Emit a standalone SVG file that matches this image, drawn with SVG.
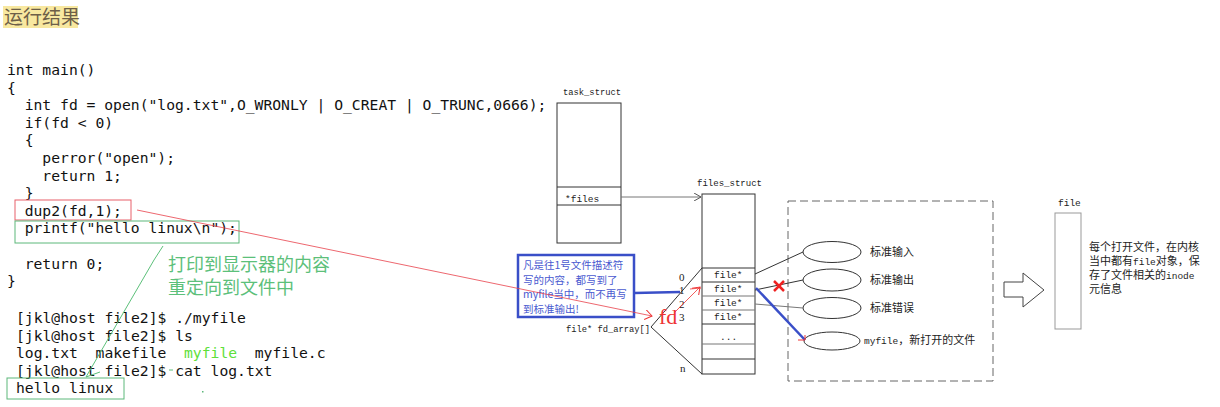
<svg xmlns="http://www.w3.org/2000/svg" width="1220" height="407" viewBox="0 0 1220 407">
<defs>
<style>
.code{font-family:"DejaVu Sans Mono",monospace;font-size:14.7px;fill:#111;white-space:pre}
.cjk{font-family:"Noto Sans CJK SC","Noto Sans",sans-serif}
.small{font-family:"Liberation Mono","Noto Sans CJK SC",monospace;font-size:9.5px;fill:#222}
.lbl{font-family:"Noto Sans CJK SC",sans-serif;font-size:11px;fill:#222}
.num{font-family:"Liberation Serif",serif;font-size:11px;fill:#222}
.thin{stroke:#333;stroke-width:1;fill:none}
.gray{stroke:#777;stroke-width:1;fill:none}
</style>
<marker id="open" markerWidth="8" markerHeight="8" refX="7" refY="4" orient="auto" markerUnits="userSpaceOnUse">
<path d="M0,0 L7,4 L0,8" fill="none" stroke="#555" stroke-width="1"/>
</marker>
<marker id="redopen" markerWidth="8" markerHeight="10" refX="7" refY="5" orient="auto" markerUnits="userSpaceOnUse">
<path d="M0,0 L7,5 L0,10" fill="none" stroke="#e33" stroke-width="1"/>
</marker>
</defs>
<rect width="1220" height="407" fill="#fff"/>

<g id="title">
<rect x="3" y="6" width="75" height="22" fill="#f8e8a0"/>
<text x="4" y="24" class="cjk" font-size="19" fill="#6e5f48">运行结果</text>
</g>

<g id="code">
<text class="code" x="7" y="75">int main()</text>
<text class="code" x="7" y="92.6">{</text>
<text class="code" x="7" y="110.2">  int fd = open("log.txt",O_WRONLY | O_CREAT | O_TRUNC,0666);</text>
<text class="code" x="7" y="127.8">  if(fd &lt; 0)</text>
<text class="code" x="7" y="145.4">  {</text>
<text class="code" x="7" y="163">    perror("open");</text>
<text class="code" x="7" y="180.6">    return 1;</text>
<text class="code" x="7" y="198.2">  }</text>
<text class="code" x="7" y="215.8">  dup2(fd,1);</text>
<text class="code" x="7" y="233.4">  printf("hello linux\n");</text>
<text class="code" x="7" y="268.6">  return 0;</text>
<text class="code" x="7" y="286.2">}</text>
<rect x="15" y="200" width="116" height="20" fill="none" stroke="#e8606a" stroke-width="1"/>
<rect x="15" y="221" width="224" height="22" fill="none" stroke="#5cb87a" stroke-width="1"/>
</g>

<g id="terminal">
<text class="code" x="16" y="323">[jkl@host file2]$ ./myfile</text>
<text class="code" x="16" y="340.5">[jkl@host file2]$ ls</text>
<text class="code" x="16" y="358">log.txt  makefile  <tspan fill="#5ee03a">myfile</tspan>  myfile.c</text>
<text class="code" x="16" y="375.6">[jkl@host file2]$ cat log.txt</text>
<text class="code" x="16" y="393.2">hello linux</text>
<rect x="7" y="378" width="117" height="21" fill="none" stroke="#5cb87a" stroke-width="1"/>
<rect x="202" y="391" width="1.5" height="1.5" fill="#5cb87a"/>
</g>

<g id="green-note">
<text x="168" y="271" class="cjk" font-size="18" fill="#5cc07a">打印到显示器的内容</text>
<text x="168" y="294" class="cjk" font-size="18" fill="#5cc07a">重定向到文件中</text>
</g>

<g id="task_struct">
<text x="563" y="95" class="small" textLength="58" lengthAdjust="spacingAndGlyphs">task_struct</text>
<rect x="557" y="103" width="64" height="140" class="thin"/>
<line x1="557" y1="187" x2="621" y2="187" class="thin"/>
<line x1="557" y1="205" x2="621" y2="205" class="thin"/>
<text x="565" y="202" class="small">*files</text>
</g>

<g id="files_struct">
<text x="697" y="186" class="small" textLength="65" lengthAdjust="spacingAndGlyphs">files_struct</text>
<rect x="702" y="194" width="53" height="180" class="thin"/>
<line x1="702" y1="268" x2="755" y2="268" class="thin"/>
<line x1="702" y1="282" x2="755" y2="282" class="thin"/>
<line x1="702" y1="296" x2="755" y2="296" class="gray"/>
<line x1="702" y1="310" x2="755" y2="310" class="gray"/>
<line x1="702" y1="324" x2="755" y2="324" class="thin"/>
<line x1="702" y1="344" x2="755" y2="344" class="gray"/>
<line x1="702" y1="359" x2="755" y2="359" class="thin"/>
<text x="714" y="278" class="small">file*</text>
<text x="714" y="292" class="small">file*</text>
<text x="714" y="306" class="small">file*</text>
<text x="714" y="320" class="small">file*</text>
<text x="720" y="340" class="small">...</text>
<text x="679" y="281" class="num">0</text>
<text x="679" y="294" class="num">1</text>
<text x="679" y="308" class="num">2</text>
<text x="679" y="321" class="num">3</text>
<text x="680" y="372" class="num">n</text>
<text x="566" y="332" class="small" textLength="84" lengthAdjust="spacingAndGlyphs">file* fd_array[]</text>
</g>

<g id="note-blue">
<rect x="518" y="255" width="116" height="62" fill="#fff" stroke="#3a4fc8" stroke-width="2.5"/>
<text x="523" y="269" class="cjk" font-size="10.5" fill="#4a5ad0">凡是往1号文件描述符</text>
<text x="523" y="283.5" class="cjk" font-size="10.5" fill="#4a5ad0">写的内容，都写到了</text>
<text x="523" y="298" class="cjk" font-size="10.5" fill="#4a5ad0">myfile当中，而不再写</text>
<text x="523" y="312.5" class="cjk" font-size="10.5" fill="#4a5ad0">到标准输出!</text>
</g>

<g id="kernel-files">
<rect x="788" y="201" width="205" height="180" fill="none" stroke="#666" stroke-width="1" stroke-dasharray="8,4"/>
<ellipse cx="832" cy="252" rx="29" ry="10.5" class="thin"/>
<ellipse cx="832" cy="280" rx="29" ry="11" class="thin"/>
<ellipse cx="832" cy="308" rx="29" ry="10.5" class="thin"/>
<ellipse cx="832" cy="341" rx="28" ry="9" class="thin"/>
<text x="870" y="256" class="lbl">标准输入</text>
<text x="870" y="284" class="lbl">标准输出</text>
<text x="870" y="312" class="lbl">标准错误</text>
<text x="864" y="344" class="lbl"><tspan class="small">myfile</tspan>，新打开的文件</text>
</g>

<g id="file">
<text x="1058" y="206" class="small">file</text>
<rect x="1055" y="213" width="26" height="116" fill="none" stroke="#999" stroke-width="1"/>
<text x="1089" y="251" class="lbl" font-size="10.5">每个打开文件，在内核</text>
<text x="1089" y="265" class="lbl" font-size="10.5">当中都有<tspan class="small">file</tspan>对象，保</text>
<text x="1089" y="279" class="lbl" font-size="10.5">存了文件相关的<tspan class="small">inode</tspan></text>
<text x="1089" y="293" class="lbl" font-size="10.5">元信息</text>
</g>

<g id="big-arrow">
<path d="M1004,282 L1023,282 L1023,273 L1044,290 L1023,307 L1023,297 L1004,297 Z" fill="#fff" stroke="#444" stroke-width="1"/>
</g>

<g id="connectors">
<line x1="621" y1="197" x2="701" y2="197" stroke="#777" stroke-width="1" marker-end="url(#open)"/>
<line x1="651" y1="327" x2="702" y2="268" class="thin"/>
<line x1="651" y1="327" x2="702" y2="374" class="thin"/>
<line x1="755" y1="274" x2="803" y2="252" class="thin"/>
<line x1="755" y1="290" x2="803" y2="280" class="thin"/>
<line x1="755" y1="304" x2="803" y2="308" class="gray"/>
<line x1="634" y1="293" x2="680" y2="292" stroke="#3a4fc8" stroke-width="2.5"/>
<line x1="756" y1="288" x2="805" y2="340" stroke="#3a4fc8" stroke-width="2.5"/>
<path d="M798,340 L805,340 L805,335" fill="none" stroke="#e33" stroke-width="1"/>
<g stroke="#e22" stroke-width="2.5">
<line x1="774" y1="281" x2="784" y2="291"/>
<line x1="784" y1="281" x2="774" y2="291"/>
</g>
<line x1="137" y1="210" x2="652" y2="316" stroke="#e8404a" stroke-width="0.8" marker-end="url(#redopen)"/>
<line x1="675" y1="312" x2="700" y2="287" stroke="#e33" stroke-width="0.8" marker-end="url(#redopen)"/>
<line x1="690" y1="289" x2="701" y2="288" stroke="#e33" stroke-width="0.8"/>
<text x="659" y="324" font-family="Liberation Serif,serif" font-size="22" fill="#e33">fd</text>
<polyline points="154,260 86,377 100,372" fill="none" stroke="#5cc07a" stroke-width="1"/>
<line x1="163" y1="246" x2="154" y2="260" stroke="#5cc07a" stroke-width="1"/>
<line x1="169" y1="370" x2="173" y2="370" stroke="#5cc07a" stroke-width="1"/>
</g>
</svg>
